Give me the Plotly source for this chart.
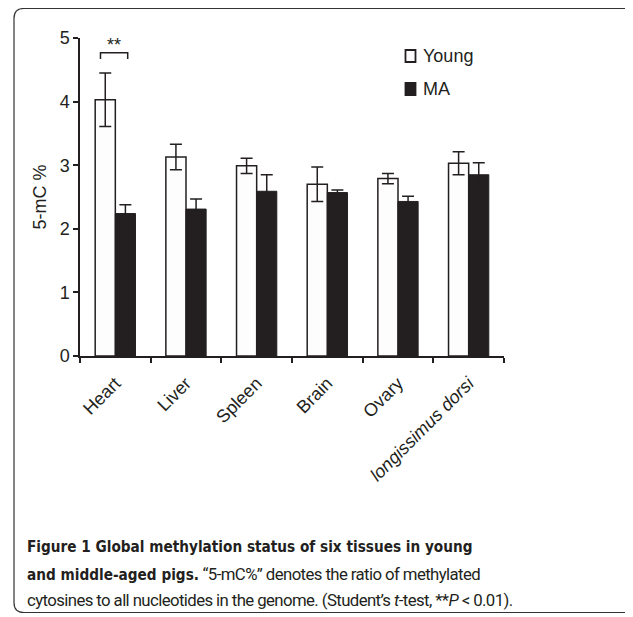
import plotly.graph_objects as go

categories = ["Heart", "Liver", "Spleen", "Brain", "Ovary", "longissimus dorsi"]
tick_labels = ["Heart", "Liver", "Spleen", "Brain", "Ovary", "<i>longissimus dorsi</i>"]
young = [4.03, 3.13, 2.99, 2.70, 2.79, 3.03]
young_err = [0.42, 0.20, 0.12, 0.27, 0.08, 0.18]
ma = [2.24, 2.31, 2.59, 2.57, 2.43, 2.85]
ma_err = [0.14, 0.16, 0.26, 0.04, 0.08, 0.19]
y_ticks = [0, 1, 2, 3, 4, 5]
series_names = ["Young", "MA"]

INK = "#231f20"
OFF = 8  # default page body margin
W, H = 625, 609
L, R, T, B = 72, 129, 30, 261
pw, ph = W - L - R, H - T - B

def px(x):  # screen x -> paper
    return (x - OFF - L) / pw

def py(y):  # screen y -> paper
    return (H - B - (y - OFF)) / ph

fig = go.Figure()
fig.add_trace(go.Bar(
    x=categories, y=young, name=series_names[0],
    marker=dict(color="#fdfdfd", line=dict(color=INK, width=1.5)),
    error_y=dict(type="data", array=young_err, color=INK, thickness=1.5, width=6),
))
fig.add_trace(go.Bar(
    x=categories, y=ma, name=series_names[1],
    marker=dict(color=INK, line=dict(color=INK, width=1)),
    error_y=dict(type="data", array=ma_err, color=INK, thickness=1.5, width=6),
))

# significance bracket
fig.add_shape(type="path", xref="x", yref="y",
              path="M -0.21,4.67 L -0.21,4.77 L 0.175,4.77 L 0.175,4.67",
              line=dict(color=INK, width=1.5))
fig.add_annotation(x=-0.02, y=4.77, xref="x", yref="y", text="**", showarrow=False,
                   yanchor="bottom", font=dict(size=18, color=INK), yshift=-4)

# manual legend
legend_rows = [(56, "#fdfdfd"), (89, INK)]
for (cy, fill), name in zip(legend_rows, series_names):
    fig.add_shape(type="rect", xref="paper", yref="paper",
                  x0=px(405.5), x1=px(415.5), y0=py(cy + 6), y1=py(cy - 6),
                  fillcolor=fill, line=dict(color=INK, width=1.8))
    fig.add_annotation(x=px(421), y=py(cy), xref="paper", yref="paper", text=name,
                       showarrow=False, xanchor="left", yanchor="middle",
                       font=dict(size=18, color=INK))

# frame with rounded corners
r = 10
x0, x1, y0, y1 = 14, 660, 8.5, 612.5
fig.add_shape(type="path", xref="paper", yref="paper", path=
              f"M {px(x1)},{py(y0)} L {px(x0 + r)},{py(y0)} Q {px(x0)},{py(y0)} {px(x0)},{py(y0 + r)} "
              f"L {px(x0)},{py(y1 - r)} Q {px(x0)},{py(y1)} {px(x0 + r)},{py(y1)} L {px(x1)},{py(y1)}",
              line=dict(color="#333333", width=1.2))

BOLD = ('<span style="font-family:DejaVu Sans Condensed;font-weight:bold;'
        'font-size:15.2px;letter-spacing:0px">')
REG = '<span style="letter-spacing:-0.6px">'
caption = [
    BOLD + "Figure 1 Global methylation status of six tissues in young</span>",
    BOLD + "and middle-aged pigs.</span>" + REG + " “5-mC%” denotes the ratio of methylated</span>",
    REG + "cytosines to all nucleotides in the genome. (Student’s <i>t</i>-test, **<i>P</i> &lt; 0.01).</span>",
]
for i, line in enumerate(caption):
    fig.add_annotation(x=px(25), y=py(547 + i * 26.5), xref="paper", yref="paper",
                       text=line, showarrow=False, xanchor="left", yanchor="middle",
                       font=dict(size=16.8, color=INK, family="Roboto"))

fig.update_layout(
    width=W, height=H, margin=dict(l=L, r=R, t=T, b=B, autoexpand=False),
    paper_bgcolor="white", plot_bgcolor="white",
    barmode="group", bargap=0.43, bargroupgap=0,
    font=dict(family="Liberation Sans", color=INK, size=17),
    showlegend=False,
    xaxis=dict(tickmode="array", tickvals=categories, ticktext=tick_labels,
               tickangle=-45, showline=True, linecolor=INK, linewidth=1.5,
               ticks="outside", tickson="boundaries", ticklen=5, tickwidth=1.5,
               tickcolor=INK, showgrid=False, tickfont=dict(size=18),
               ticklabelstandoff=8),
    yaxis=dict(range=[0, 5], tickvals=y_ticks, showline=True, linecolor=INK,
               linewidth=1.5, ticks="outside", ticklen=5, tickwidth=1.5, tickcolor=INK,
               showgrid=False, zeroline=False, tickfont=dict(size=18),
               title=dict(text="5-mC %", font=dict(size=18), standoff=8)),
)

fig.write_html("out.html")
